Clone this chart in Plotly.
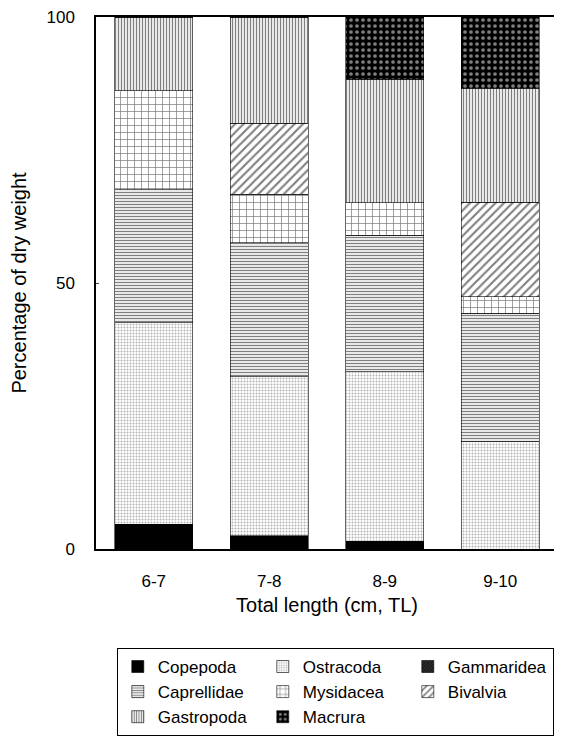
import plotly.graph_objects as go

categories = ["6-7", "7-8", "8-9", "9-10"]
series_names = ["Copepoda", "Ostracoda", "Gammaridea", "Caprellidae",
                "Mysidacea", "Bivalvia", "Gastropoda", "Macrura"]
copepoda    = [4.7, 2.5, 1.5, 0.0]
ostracoda   = [37.8, 29.9, 31.8, 20.2]
gammaridea  = [0.0, 0.0, 0.0, 0.0]
caprellidae = [25.0, 25.2, 25.7, 24.1]
mysidacea   = [18.6, 9.1, 6.1, 3.1]
bivalvia    = [0.0, 13.3, 0.0, 17.8]
gastropoda  = [13.9, 20.0, 23.2, 21.4]
macrura     = [0.0, 0.0, 11.7, 13.4]
y_ticks = [0, 50, 100]

values = [copepoda, ostracoda, gammaridea, caprellidae, mysidacea, bivalvia, gastropoda, macrura]
patterns = [
    dict(shape="", bgcolor="black"),
    dict(shape=".", fgcolor="#666666", bgcolor="white", size=3, solidity=0.35),
    dict(shape="x", fgcolor="black", bgcolor="#333333", size=3, solidity=0.6),
    dict(shape="-", fgcolor="black", bgcolor="white", size=3, solidity=0.45),
    dict(shape="+", fgcolor="black", bgcolor="white", size=7, solidity=0.2),
    dict(shape="/", fgcolor="black", bgcolor="white", size=6, solidity=0.35),
    dict(shape="|", fgcolor="black", bgcolor="white", size=3, solidity=0.45),
    dict(shape=".", fgcolor="white", bgcolor="black", size=6, solidity=0.3),
]
colors = ["black", "white", "#333333", "white", "white", "white", "white", "black"]

fig = go.Figure()
for name, vals, pat, col in zip(series_names, values, patterns, colors):
    fig.add_trace(go.Bar(
        x=categories, y=vals, name=name,
        marker=dict(color=col, pattern=pat, line=dict(color="black", width=0.6)),
    ))

fig.update_layout(
    barmode="stack",
    bargap=0.325,
    width=554, height=730,
    margin=dict(l=88, r=4, t=9, b=189, autoexpand=False),
    plot_bgcolor="white", paper_bgcolor="white",
    font=dict(family="Liberation Sans, Arial, sans-serif", size=17, color="black"),
    showlegend=True,
    legend=dict(
        orientation="h", x=0.045, y=-0.186, xanchor="left", yanchor="top",
        entrywidth=100, bordercolor="black", borderwidth=1,
        font=dict(size=17), traceorder="normal",
        itemwidth=30, tracegroupgap=0,
    ),
    xaxis=dict(
        showline=True, linecolor="black", linewidth=1.5, mirror=True,
        ticks="", ticklabelstandoff=16, tickfont=dict(size=17), automargin=False,
        title=dict(text="Total length (cm, TL)", font=dict(size=20), standoff=8),
    ),
    yaxis=dict(
        range=[0, 100], tickvals=y_ticks, showline=True, linecolor="black", linewidth=1.5,
        showgrid=False, zeroline=False, ticks="inside", ticklen=3,
        ticklabelstandoff=16, ticklabeloverflow="allow", tickfont=dict(size=17), automargin=False,
        title=dict(text="Percentage of dry weight", font=dict(size=20), standoff=22),
    ),
)

fig.write_html("out.html")
